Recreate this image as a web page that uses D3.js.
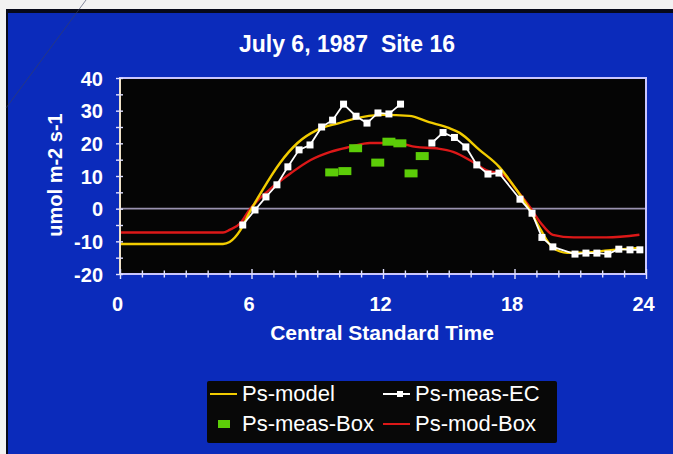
<!DOCTYPE html>
<html lang="en">
<head>
<meta charset="UTF-8">
<script src="https://cdn.jsdelivr.net/npm/d3@7"></script>
<title>July 6, 1987 Site 16</title>
<style>
    body, html {
        margin: 0;
        padding: 0;
        background: #f4f4f4;
    }
    #chart {
        width: 673px;
        height: 454px;
    }
    text {
        font-family: "Liberation Sans", Arial, sans-serif;
    }
</style>
</head>
<body>
<div id="chart"></div>
<script>

// ---- data ----
// Ps-model (yellow)
const modelHours  = [0, 4.7, 5.0, 5.5, 5.9, 6.5, 7.3, 8.1, 9.0, 10.0, 11.1, 12.0, 13.2, 14.1, 15.0, 15.5, 16.4, 17.3, 18.1, 18.7, 19.2, 19.75, 20.4, 21.0, 22.5, 23.7]
const modelValues = [-10.8, -10.8, -10.2, -6.5, -1.3, 5.7, 14.0, 20.1, 24.1, 26.2, 28.1, 28.7, 28.4, 26.5, 24.7, 23.2, 18.0, 12.8, 5.7, -0.4, -6.5, -12.0, -13.5, -13.5, -12.6, -12.0]

// Ps-mod-Box (red)
const modBoxHours  = [0, 4.7, 5.0, 5.5, 5.9, 6.8, 7.8, 8.7, 9.6, 10.5, 11.4, 11.9, 12.6, 13.5, 14.5, 15.2, 16.1, 16.7, 17.5, 18.1, 18.7, 19.2, 19.75, 20.7, 22.2, 23.7]
const modBoxValues = [-7.3, -7.3, -6.5, -4.4, -0.4, 5.7, 10.9, 14.9, 17.4, 18.9, 20.1, 20.1, 20.1, 18.9, 18.4, 17.4, 14.3, 11.8, 10.3, 5.7, 0.5, -4.4, -8.0, -8.8, -8.8, -8.0]

// Ps-meas-EC (white, null = gap in the record)
const ecHours  = [5.6, 6.16, 6.66, 7.16, 7.66, 8.17, 8.67, 9.2, 9.7, 10.2, 10.77, 11.27, 11.77, 12.27, 12.8, 13.5, 14.23, 14.74, 15.26, 15.78, 16.28, 16.79, 17.29, 18.25, 18.8, 19.25, 19.75, 20.76, 21.26, 21.76, 22.26, 22.76, 23.27, 23.72]
const ecValues = [-5.0, -0.4, 3.6, 7.3, 12.8, 18.0, 19.5, 25.0, 27.1, 32.0, 28.3, 26.2, 29.3, 29.0, 32.0, null, 20.1, 23.3, 21.8, 18.9, 13.4, 10.6, 10.9, 2.9, -1.4, -8.8, -11.7, -13.9, -13.6, -13.6, -13.9, -12.4, -12.6, -12.6]

// Ps-meas-Box (green)
const boxHours  = [9.66, 10.26, 10.75, 11.76, 12.27, 12.77, 13.28, 13.79]
const boxValues = [11.1, 11.5, 18.5, 14.1, 20.5, 20.0, 10.8, 16.1]

const xTicks = d3.range(0, 25, 1)
const xLabels = [0, 6, 12, 18, 24]
const yTicks = d3.range(-20, 41, 5)
const yLabels = [-20, -10, 0, 10, 20, 30, 40]

const titleText = "July 6, 1987\u00a0\u00a0Site 16"
const xTitle = "Central Standard Time"
const yTitle = "umol m-2 s-1"
const legendNames = ["Ps-model", "Ps-meas-EC", "Ps-meas-Box", "Ps-mod-Box"]

// ---- colours ----
const BLUE = "#0b2bbb"
const YELLOW = "#f2cc00"
const RED = "#dc1818"
const GREEN = "#5ccd08"
const WHITE = "#ffffff"

const W = 673, H = 454
const plot = {left: 120, right: 646, top: 78, bottom: 274}

const svg = d3.select("#chart").append("svg").attr("width", W).attr("height", H)

// slide background (photo of a slide)
svg.append("rect").attr("x", 0).attr("y", 0).attr("width", W).attr("height", H).attr("fill", "#f2f2f2")
svg.append("rect").attr("x", 6).attr("y", 9).attr("width", W - 6).attr("height", H - 9).attr("fill", "#07091a")
svg.append("rect").attr("x", 8).attr("y", 13).attr("width", W - 8).attr("height", H - 13).attr("fill", BLUE)
svg.append("line").attr("x1", 86).attr("y1", 0).attr("x2", 6).attr("y2", 108)
    .attr("stroke", "#3a4060").attr("stroke-width", 1).attr("opacity", 0.6)

// scales
const x = d3.scaleLinear().domain([0, 24]).range([plot.left, plot.right])
const y = d3.scaleLinear().domain([-20, 40]).range([plot.bottom, plot.top])

// plot area
svg.append("rect").attr("x", plot.left).attr("y", plot.top)
    .attr("width", plot.right - plot.left).attr("height", plot.bottom - plot.top)
    .attr("fill", "#050505")

// zero line
svg.append("line").attr("x1", x(0)).attr("x2", x(24)).attr("y1", y(0)).attr("y2", y(0))
    .attr("stroke", "#9a92b0").attr("stroke-width", 1.6)

// lines
const toPts = (hs, vs) => hs.map((h, i) => ({h: h, v: vs[i]}))
const lineGen = d3.line().defined(d => d.v != null).x(d => x(d.h)).y(d => y(d.v))
const smoothGen = d3.line().curve(d3.curveMonotoneX).x(d => x(d.h)).y(d => y(d.v))

svg.append("path").datum(toPts(modBoxHours, modBoxValues)).attr("d", smoothGen)
    .attr("fill", "none").attr("stroke", RED).attr("stroke-width", 2.4)
svg.append("path").datum(toPts(modelHours, modelValues)).attr("d", smoothGen)
    .attr("fill", "none").attr("stroke", YELLOW).attr("stroke-width", 2.4)

// green boxes
svg.append("g").selectAll("rect").data(toPts(boxHours, boxValues)).enter().append("rect")
    .attr("x", d => x(d.h) - 6.5).attr("y", d => y(d.v) - 4)
    .attr("width", 13).attr("height", 8).attr("fill", GREEN)

// EC line + squares
const ecPts = toPts(ecHours, ecValues)
svg.append("path").datum(ecPts).attr("d", lineGen)
    .attr("fill", "none").attr("stroke", WHITE).attr("stroke-width", 1.8)
svg.append("g").selectAll("rect").data(ecPts.filter(d => d.v != null)).enter().append("rect")
    .attr("x", d => x(d.h) - 3.5).attr("y", d => y(d.v) - 3.5)
    .attr("width", 7).attr("height", 7).attr("fill", WHITE)

// frame
svg.append("rect").attr("x", plot.left).attr("y", plot.top)
    .attr("width", plot.right - plot.left).attr("height", plot.bottom - plot.top)
    .attr("fill", "none").attr("stroke", "#c9c6ff").attr("stroke-width", 2)
svg.append("line").attr("x1", plot.left).attr("x2", plot.left).attr("y1", plot.top).attr("y2", plot.bottom)
    .attr("stroke", "#f0e2c8").attr("stroke-width", 2)

// x axis (hourly crossing ticks)
const xAxis = svg.append("g").attr("transform", `translate(0,${plot.bottom})`)
    .call(d3.axisBottom(x).tickValues(xTicks).tickSize(0).tickFormat(d => xLabels.includes(d) ? d : ""))
xAxis.select(".domain").remove()
xAxis.selectAll(".tick").append("line")
    .attr("y1", d => d % 6 ? -3.5 : -5).attr("y2", d => d % 6 ? 3.5 : 5)
    .attr("stroke", "#e0e0ff").attr("stroke-width", 1.4)
xAxis.selectAll(".tick text").attr("y", 0).attr("dy", 37).attr("dx", -3)
    .attr("fill", WHITE).attr("font-size", 20).attr("font-weight", "bold")
    .attr("font-family", "Liberation Sans, Arial, sans-serif")

// y axis
const yAxis = svg.append("g").attr("transform", `translate(${plot.left},0)`)
    .call(d3.axisLeft(y).tickValues(yTicks).tickSize(0).tickFormat(d => yLabels.includes(d) ? d : ""))
yAxis.select(".domain").remove()
yAxis.selectAll(".tick").append("line")
    .attr("x1", -4).attr("x2", 3)
    .attr("stroke", "#e0e0ff").attr("stroke-width", 1.4)
yAxis.selectAll(".tick text").attr("x", -17).attr("dy", "0.36em")
    .attr("fill", WHITE).attr("font-size", 20).attr("font-weight", "bold")
    .attr("font-family", "Liberation Sans, Arial, sans-serif")

// titles
svg.append("text").attr("x", 347).attr("y", 52).attr("text-anchor", "middle")
    .attr("fill", WHITE).attr("font-size", 23).attr("font-weight", "bold").text(titleText)
svg.append("text").attr("x", 382).attr("y", 340).attr("text-anchor", "middle")
    .attr("fill", WHITE).attr("font-size", 21).attr("font-weight", "bold").text(xTitle)
svg.append("text").attr("transform", "translate(62,175) rotate(-90)").attr("text-anchor", "middle")
    .attr("fill", WHITE).attr("font-size", 20).attr("font-weight", "bold").text(yTitle)

// legend
const lg = svg.append("g")
lg.append("rect").attr("x", 207).attr("y", 381).attr("width", 350).attr("height", 62)
    .attr("fill", "#080808").attr("rx", 2)
const legendItems = [
    {name: legendNames[0], col: 0, row: 0, kind: "line", color: YELLOW},
    {name: legendNames[1], col: 1, row: 0, kind: "marker", color: WHITE},
    {name: legendNames[2], col: 0, row: 1, kind: "box", color: GREEN},
    {name: legendNames[3], col: 1, row: 1, kind: "line", color: RED},
]
legendItems.forEach(it => {
    const sx = it.col ? 383 : 210
    const tx = it.col ? 415 : 242
    const cy = it.row ? 424 : 394
    if (it.kind === "box") {
        lg.append("rect").attr("x", sx + 8).attr("y", cy - 4).attr("width", 12).attr("height", 8).attr("fill", it.color)
    } else {
        lg.append("line").attr("x1", sx).attr("x2", sx + 27).attr("y1", cy).attr("y2", cy)
            .attr("stroke", it.color).attr("stroke-width", 2)
        if (it.kind === "marker") {
            lg.append("rect").attr("x", sx + 14).attr("y", cy - 3).attr("width", 6).attr("height", 6).attr("fill", it.color)
        }
    }
    lg.append("text").attr("x", tx).attr("y", cy + 7).attr("fill", WHITE)
        .attr("font-size", 22).text(it.name)
})

</script>
</body>
</html>
